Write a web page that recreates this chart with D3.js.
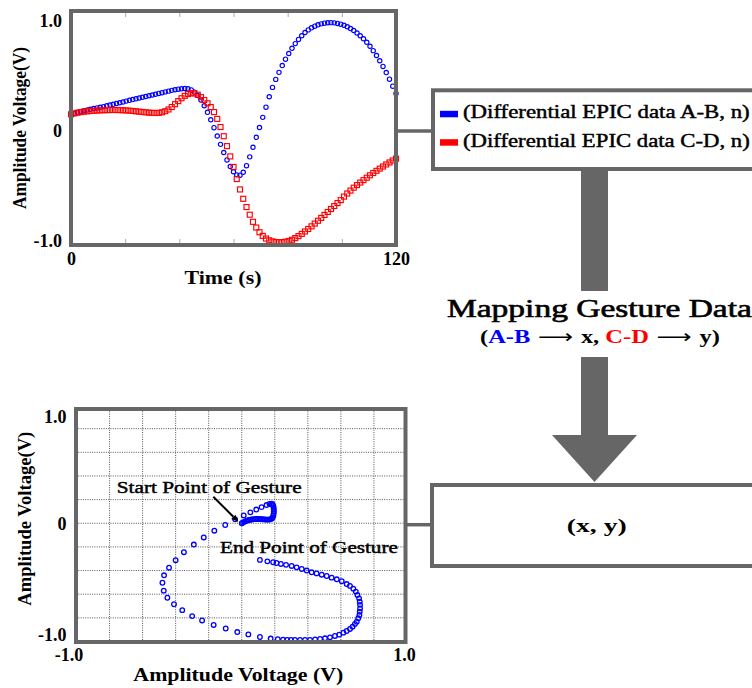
<!DOCTYPE html>
<html><head><meta charset="utf-8">
<script src="https://cdn.jsdelivr.net/npm/d3@7"></script>
<style>html,body{margin:0;padding:0;background:#fff;} svg{display:block;}</style>
</head><body>
<svg id="chart" width="752" height="688"></svg>
<script>
// ---------------- DATA ----------------
const timeS = [0,1.2,2.4,3.6,4.8,6,7.2,8.4,9.6,10.8,12,13.2,14.4,15.6,16.8,18,19.2,20.4,21.6,22.8,24,25.2,26.4,27.6,28.8,30,31.2,32.4,33.6,34.8,36,37.2,38.4,39.6,40.8,42,43.2,44.4,45.6,46.8,48,49.2,50.4,51.6,52.8,54,55.2,56.4,57.6,58.8,60,61.2,62.4,63.6,64.8,66,67.2,68.4,69.6,70.8,72,73.2,74.4,75.6,76.8,78,79.2,80.4,81.6,82.8,84,85.2,86.4,87.6,88.8,90,91.2,92.4,93.6,94.8,96,97.2,98.4,99.6,100.8,102,103.2,104.4,105.6,106.8,108,109.2,110.4,111.6,112.8,114,115.2,116.4,117.6,118.8,120];

const diffAB = [
0.150,0.158,0.166,0.174,0.182,0.190,0.196,0.202,0.208,0.214,
0.220,0.227,0.234,0.241,0.248,0.255,0.262,0.270,0.277,0.284,
0.291,0.298,0.305,0.312,0.319,0.326,0.333,0.340,0.347,0.354,
0.361,0.368,0.374,0.379,0.383,0.385,0.382,0.372,0.352,0.322,
0.280,0.228,0.168,0.100,0.028,-0.048,-0.124,-0.198,-0.266,-0.326,
-0.374,-0.402,-0.405,-0.378,-0.318,-0.238,-0.150,-0.060,0.030,0.122,
0.215,0.310,0.395,0.468,0.532,0.594,0.652,0.704,0.752,0.794,
0.832,0.866,0.895,0.919,0.938,0.953,0.965,0.974,0.980,0.984,
0.985,0.983,0.978,0.971,0.961,0.948,0.932,0.913,0.891,0.866,
0.838,0.806,0.770,0.730,0.686,0.638,0.586,0.530,0.470,0.406,
0.340];

const diffCD = [
0.150,0.158,0.165,0.170,0.174,0.177,0.180,0.182,0.184,0.186,
0.187,0.188,0.189,0.189,0.189,0.188,0.187,0.185,0.183,0.180,
0.177,0.174,0.171,0.168,0.165,0.163,0.162,0.163,0.168,0.178,
0.194,0.216,0.242,0.270,0.296,0.318,0.334,0.342,0.340,0.328,
0.306,0.280,0.250,0.216,0.170,0.108,0.034,-0.050,-0.140,-0.234,
-0.330,-0.440,-0.535,-0.620,-0.695,-0.765,-0.830,-0.882,-0.925,-0.958,
-0.982,-0.998,-1.008,-1.014,-1.016,-1.015,-1.011,-1.004,-0.993,-0.978,
-0.960,-0.940,-0.918,-0.895,-0.871,-0.846,-0.820,-0.794,-0.767,-0.740,
-0.713,-0.686,-0.659,-0.632,-0.600,-0.572,-0.545,-0.519,-0.495,-0.472,
-0.450,-0.428,-0.406,-0.385,-0.365,-0.345,-0.326,-0.307,-0.289,-0.271,
-0.254];

const gestureX = [
0.000,0.008,0.016,0.025,0.034,0.043,0.052,0.061,0.070,0.079,0.088,0.097,0.106,0.115,0.124,0.133,0.142,0.151,0.160,0.168,0.176,0.183,
0.188,0.191,0.193,0.194,0.194,0.193,0.191,0.187,0.180,
0.168,0.150,0.120,0.088,0.052,0.012,-0.040,-0.100,-0.166,-0.230,-0.290,-0.350,-0.400,-0.440,-0.470,-0.480,
-0.472,-0.450,-0.410,-0.360,-0.300,-0.240,-0.170,-0.097,-0.027,0.040,0.110,0.175,0.218,
0.250,0.275,0.298,0.322,0.353,0.383,0.413,0.444,0.474,0.504,0.534,0.564,0.590,0.615,0.635,0.655,0.671,0.685,0.696,0.705,0.712,0.714,0.716,0.716,0.714,0.710,0.700,0.690,0.675,0.655,0.635,
0.605,0.575,0.544,0.514,0.484,0.453,0.423,0.393,0.363,0.332,0.302,0.268,0.237,0.210,0.190,0.155,0.110];

const gestureY = [
0.000,0.006,0.012,0.018,0.023,0.027,0.030,0.032,0.034,0.035,0.036,0.036,0.036,0.035,0.034,0.033,0.032,0.031,0.031,0.032,0.035,0.040,
0.050,0.064,0.080,0.097,0.114,0.131,0.146,0.158,0.165,
0.163,0.154,0.136,0.116,0.092,0.066,0.033,-0.015,-0.063,-0.120,-0.180,-0.245,-0.313,-0.376,-0.440,-0.503,
-0.570,-0.630,-0.685,-0.735,-0.785,-0.822,-0.860,-0.890,-0.920,-0.940,-0.962,-0.975,-0.980,
-0.985,-0.986,-0.987,-0.987,-0.987,-0.987,-0.986,-0.983,-0.979,-0.973,-0.965,-0.953,-0.942,-0.925,-0.911,-0.894,-0.875,-0.852,-0.832,-0.804,-0.776,-0.748,-0.720,-0.690,-0.663,-0.635,-0.607,-0.578,-0.553,-0.530,-0.514,
-0.490,-0.474,-0.460,-0.446,-0.435,-0.424,-0.415,-0.400,-0.387,-0.373,-0.361,-0.352,-0.344,-0.336,-0.330,-0.322,-0.310];

const timeTicks = [0, 120];
const timeMinorTicks = [20, 40, 60, 80, 100];
const voltTicks = [-1, 0, 1];
const gridTicks = [-0.8, -0.6, -0.4, -0.2, 0, 0.2, 0.4, 0.6, 0.8];
const seriesNames = ["(Differential EPIC data A-B, n)", "(Differential EPIC data C-D, n)"];
const seriesColors = ["#0000ff", "#ff0000"];
const topXTitle = "Time (s)";
const yTitle = "Amplitude Voltage(V)";
const bottomXTitle = "Amplitude Voltage (V)";
const mappingTitle = "Mapping Gesture Data";
const mappingLine = [{t:"("},{t:"A-B",c:"#0000ff"},{t:" \u27F6 ",f:"DejaVu Sans",w:"normal"},{t:"x, "},{t:"C-D",c:"#ff0000"},{t:" \u27F6 ",f:"DejaVu Sans",w:"normal"},{t:"y)"}];
const outputLabel = "(x, y)";
const startLabel = "Start Point of Gesture";
const endLabel = "End Point of Gesture";

// ---------------- DRAW ----------------
const svg = d3.select("#chart");
const FONT = "'Liberation Serif','Times New Roman',Times,serif";
const GRAY = "#666";
const fmt = v => v === 0 ? "0" : (v < 0 ? "-" : "") + Math.abs(v).toFixed(1);

function label(parent, str, o) {
  const t = parent.append("text")
    .attr("font-family", FONT)
    .attr("font-size", o.size)
    .attr("font-weight", o.weight || "bold")
    .attr("text-anchor", o.anchor || "start")
    .attr("fill", "#000");
  if (o.thick) t.attr("stroke", "#000").attr("stroke-width", o.thick);
  if (Array.isArray(str)) str.forEach(s => {
    const sp = t.append("tspan").attr("fill", s.c || "#000").text(s.t);
    if (o.thick) sp.attr("stroke", s.c || "#000");
    if (s.f) sp.attr("font-family", s.f);
    if (s.w) sp.attr("font-weight", s.w);
  });
  else t.text(str);
  let sx = 1;
  if (o.width) sx = o.width / t.node().getComputedTextLength();
  t.attr("transform", `translate(${o.x},${o.y})` + (o.rotate ? ` rotate(${o.rotate})` : "") + ` scale(${sx},1)`);
  return t;
}
function styleAxis(g, size) {
  g.select(".domain").remove();
  g.selectAll("text").attr("font-family", FONT).attr("font-size", size).attr("font-weight", "bold").attr("fill", "#000");
}

// ===== Top chart =====
const xT = d3.scaleLinear().domain([0, 120]).range([71, 396]);
const yT = d3.scaleLinear().domain([-1, 1]).range([240.5, 21]);
const topG = svg.append("g");
topG.append("rect").attr("x", 71).attr("y", 11).attr("width", 325).attr("height", 234).attr("fill", "#fff");

topG.append("g").attr("transform", "translate(0,243)")
  .call(d3.axisBottom(xT).tickValues(timeMinorTicks).tickSize(-4).tickFormat(""))
  .call(g => { g.select(".domain").remove(); g.selectAll("line").attr("stroke", "#aaa"); });
topG.append("g").attr("transform", "translate(0,13)")
  .call(d3.axisTop(xT).tickValues(timeMinorTicks).tickSize(-4).tickFormat(""))
  .call(g => { g.select(".domain").remove(); g.selectAll("line").attr("stroke", "#aaa"); });

topG.append("g").selectAll("circle").data(timeS).join("circle")
  .attr("cx", d => xT(d)).attr("cy", (d, i) => yT(diffAB[i])).attr("r", 2.15)
  .attr("fill", "none").attr("stroke", seriesColors[0]).attr("stroke-width", 1.15);
topG.append("g").selectAll("rect").data(timeS).join("rect")
  .attr("x", d => xT(d) - 2.5).attr("y", (d, i) => yT(diffCD[i]) - 2.5).attr("width", 5).attr("height", 5)
  .attr("fill", "none").attr("stroke", seriesColors[1]).attr("stroke-width", 1.15);

topG.append("rect").attr("x", 71).attr("y", 11).attr("width", 325).attr("height", 234)
  .attr("fill", "none").attr("stroke", GRAY).attr("stroke-width", 4);

topG.append("g").attr("transform", "translate(71,0)")
  .call(d3.axisLeft(yT).tickValues(voltTicks).tickSize(0).tickPadding(9).tickFormat(fmt))
  .call(g => styleAxis(g, 18));
topG.append("g").attr("transform", "translate(0,245)")
  .call(d3.axisBottom(xT).tickValues(timeTicks).tickSize(0).tickPadding(7).tickFormat(d3.format("d")))
  .call(g => styleAxis(g, 18));
label(topG, topXTitle, {x: 223, y: 284, size: 18.5, anchor: "middle", width: 77});
label(topG, yTitle, {x: 26, y: 128, size: 18, anchor: "middle", rotate: -90, width: 162});

// ===== Legend box & flow =====
const flow = svg.append("g");
flow.append("line").attr("x1", 396).attr("x2", 433).attr("y1", 131).attr("y2", 131).attr("stroke", GRAY).attr("stroke-width", 3.5);
flow.append("rect").attr("x", 433).attr("y", 90.3).attr("width", 400).attr("height", 78.7)
  .attr("fill", "#fff").attr("stroke", GRAY).attr("stroke-width", 4);
seriesNames.forEach((n, i) => {
  const by = [118.3, 146.7][i];
  flow.append("rect").attr("x", 440).attr("y", by - 7.5).attr("width", 18).attr("height", 6.5).attr("fill", seriesColors[i]);
  label(flow, n, {x: 463, y: by, size: 18.5, width: 287, weight: "normal", thick: 0.45});
});
flow.append("rect").attr("x", 581).attr("y", 171).attr("width", 27).attr("height", 120).attr("fill", GRAY);
label(flow, mappingTitle, {x: 447, y: 316.7, size: 24.5, width: 305, weight: "normal", thick: 0.6});
label(flow, mappingLine, {x: 480, y: 343.3, size: 19, width: 240});
flow.append("rect").attr("x", 581).attr("y", 357).attr("width", 27).attr("height", 79).attr("fill", GRAY);
flow.append("path").attr("d", "M552,435 L637,435 L594.5,482 Z").attr("fill", GRAY);
flow.append("line").attr("x1", 404).attr("x2", 432).attr("y1", 524.7).attr("y2", 524.7).attr("stroke", GRAY).attr("stroke-width", 3.5);
flow.append("rect").attr("x", 432).attr("y", 485).attr("width", 400).attr("height", 81)
  .attr("fill", "#fff").attr("stroke", GRAY).attr("stroke-width", 4);
label(flow, outputLabel, {x: 596.7, y: 531.7, size: 19, anchor: "middle", width: 60});

// ===== Bottom chart =====
const xB = d3.scaleLinear().domain([-1, 1]).range([76.5, 407]);
const yB = d3.scaleLinear().domain([-1, 1]).range([641.5, 405]);
const bot = svg.append("g");
const gx0 = 76, gx1 = 405.5, gy0 = 409, gy1 = 642;
bot.append("g").selectAll("line").data(gridTicks).join("line")
  .attr("x1", d => xB(d)).attr("x2", d => xB(d)).attr("y1", gy0).attr("y2", gy1)
  .attr("stroke", "#555").attr("stroke-width", 1).attr("stroke-dasharray", "1,1.3");
bot.append("g").selectAll("line").data(gridTicks).join("line")
  .attr("y1", d => yB(d)).attr("y2", d => yB(d)).attr("x1", gx0).attr("x2", gx1)
  .attr("stroke", "#555").attr("stroke-width", 1).attr("stroke-dasharray", "1,1.3");

bot.append("g").selectAll("circle").data(gestureX).join("circle")
  .attr("cx", d => xB(d)).attr("cy", (d, i) => yB(gestureY[i])).attr("r", 2.3)
  .attr("fill", "none").attr("stroke", "#0000ff").attr("stroke-width", 1.3);

bot.append("rect").attr("x", gx0).attr("y", gy0).attr("width", gx1 - gx0).attr("height", gy1 - gy0)
  .attr("fill", "none").attr("stroke", GRAY).attr("stroke-width", 4);

bot.append("g").attr("transform", "translate(76,0)")
  .call(d3.axisLeft(yB).tickValues(voltTicks).tickSize(0).tickPadding(9.5).tickFormat(fmt))
  .call(g => styleAxis(g, 18))
  .call(g => g.selectAll(".tick text").attr("y", d => d === 1 ? 12 : d === -1 ? -7 : 0));
bot.append("g").attr("transform", "translate(0,642)")
  .call(d3.axisBottom(xB).tickValues([-1, 1]).tickSize(0).tickPadding(6).tickFormat(fmt))
  .call(g => styleAxis(g, 18))
  .call(g => g.selectAll(".tick text").attr("x", d => d === -1 ? -8 : -3));
label(bot, bottomXTitle, {x: 238.3, y: 681, size: 18.5, anchor: "middle", width: 210});
label(bot, yTitle, {x: 31, y: 518.7, size: 18.5, anchor: "middle", rotate: -90, width: 174});

// annotations
label(bot, startLabel, {x: 116.7, y: 493.3, size: 17, width: 185, weight: "normal", thick: 0.45});
label(bot, endLabel, {x: 220, y: 553.3, size: 17, width: 178, weight: "normal", thick: 0.45});
const tail = [xB(-0.172), yB(0.2245)], head = [xB(-0.021), yB(0.013)];
const ang = Math.atan2(head[1] - tail[1], head[0] - tail[0]);
const L = 7, W = 3;
const bx = head[0] - L * Math.cos(ang), by = head[1] - L * Math.sin(ang);
bot.append("line").attr("x1", tail[0]).attr("y1", tail[1]).attr("x2", bx).attr("y2", by)
  .attr("stroke", "#000").attr("stroke-width", 2);
bot.append("path").attr("fill", "#000").attr("d",
  `M${head[0]},${head[1]} L${bx + W * Math.sin(ang)},${by - W * Math.cos(ang)} L${bx - W * Math.sin(ang)},${by + W * Math.cos(ang)} Z`);
</script>
</body></html>
